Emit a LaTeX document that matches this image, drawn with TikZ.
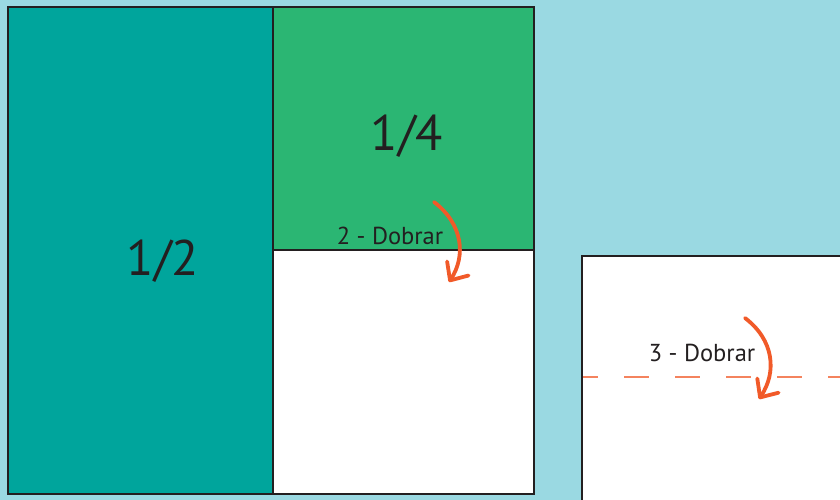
\documentclass[tikz,border=0pt]{standalone}
\usepackage{fontspec}
\setmainfont{PT Sans}
\usetikzlibrary{arrows.meta,positioning}
\definecolor{skyblue}{HTML}{9AD9E2}
\definecolor{halfteal}{HTML}{00A59C}
\definecolor{quartergreen}{HTML}{2BB673}
\definecolor{foldorange}{HTML}{F15A29}
\definecolor{edgedark}{HTML}{231F20}

\begin{document}
\begin{tikzpicture}[x=1pt,y=-1pt,
  panel/.style={draw=edgedark,line width=2pt},
  bigfrac/.style={font=\fontsize{50}{50}\selectfont,text=edgedark},
  steplabel/.style={font=\fontsize{24.5}{24.5}\selectfont,text=edgedark},
  foldarrow/.style={draw=foldorange,line width=3.8pt,line cap=round,
    -{Straight Barb[length=5mm,width=9mm,line cap=round,line join=round]}},
  foldline/.style={draw=foldorange!75,line width=1.4pt,dash pattern=on 25pt off 26pt,dash phase=10pt}
]
\useasboundingbox (0,0) rectangle (840,500);
\fill[skyblue] (0,0) rectangle (840,500);
\begin{scope}
\clip (0,0) rectangle (840,500);
% folded sheet
\filldraw[panel,fill=halfteal] (8,7) rectangle (273,494);
\filldraw[panel,fill=quartergreen] (273,7) rectangle (534,250);
\filldraw[panel,fill=white] (273,250) rectangle (534,494);
% second sheet, cut off at the border
\filldraw[panel,fill=white] (582,256) rectangle (850,510);
\draw[foldline] (583,377) -- (842,377);
\end{scope}
\node[bigfrac] (half) at (163,261) {1/2};
\node[bigfrac] (quarter) at (407,136) {1/4};
\node[steplabel] (fold2) at (390,236) {2 - Dobrar};
\node[steplabel] (fold3) at (702,353) {3 - Dobrar};
% fold arrows
\coordinate (a2s) at (434,202);
\coordinate (a2e) at (449,282);
\coordinate (a3s) at (745,318);
\coordinate (a3e) at (759,399);
\draw[foldarrow] (a2s) .. controls (463,224) and (466,256) .. (a2e);
\draw[foldarrow] (a3s) .. controls (774,340) and (777,372) .. (a3e);
\end{tikzpicture}
\end{document}
